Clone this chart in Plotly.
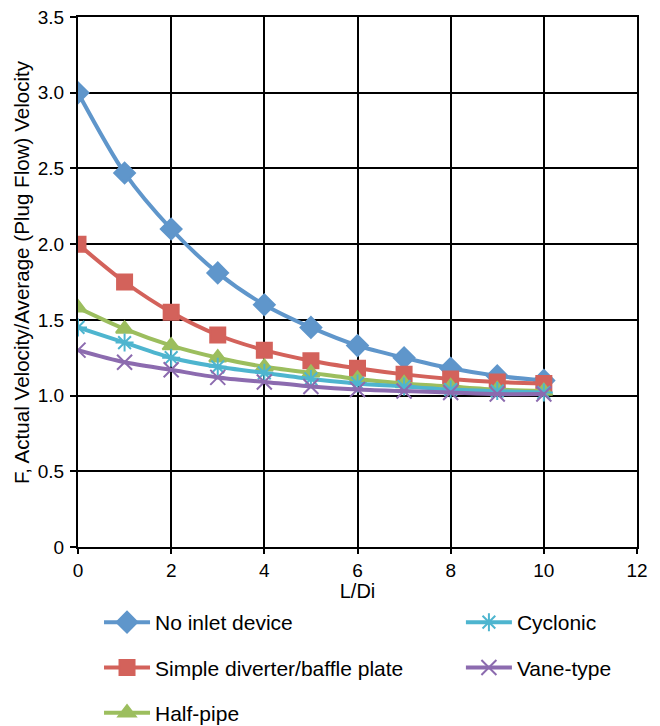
import plotly.graph_objects as go

x_vals = [0, 1, 2, 3, 4, 5, 6, 7, 8, 9, 10]
no_inlet = [3.00, 2.47, 2.10, 1.81, 1.60, 1.45, 1.33, 1.25, 1.18, 1.13, 1.10]
simple_diverter = [2.00, 1.75, 1.55, 1.40, 1.30, 1.23, 1.18, 1.14, 1.11, 1.09, 1.08]
half_pipe = [1.58, 1.44, 1.33, 1.25, 1.19, 1.15, 1.11, 1.08, 1.06, 1.04, 1.03]
cyclonic = [1.45, 1.35, 1.25, 1.19, 1.15, 1.11, 1.08, 1.06, 1.04, 1.03, 1.02]
vane_type = [1.30, 1.22, 1.17, 1.12, 1.09, 1.06, 1.04, 1.03, 1.02, 1.01, 1.01]

y_tickvals = [0, 0.5, 1.0, 1.5, 2.0, 2.5, 3.0, 3.5]
y_ticktext = ["0", "0.5", "1.0", "1.5", "2.0", "2.5", "3.0", "3.5"]
x_tickvals = [0, 2, 4, 6, 8, 10, 12]
y_title = "F, Actual Velocity/Average (Plug Flow) Velocity"
x_title = "L/Di"

series = [
    ("No inlet device", no_inlet, "#5F96CB", "diamond", 16, "legend", "g1"),
    ("Simple diverter/baffle plate", simple_diverter, "#D3625B", "square", 15, "legend", "g2"),
    ("Half-pipe", half_pipe, "#9CBE5E", "triangle-up", 15, "legend", "g3"),
    ("Cyclonic", cyclonic, "#4EB5CF", "asterisk-open", 15, "legend2", "g4"),
    ("Vane-type", vane_type, "#8C6BAF", "x-thin-open", 15, "legend2", "g5"),
]

fig = go.Figure()
for name, vals, color, sym, sz, leg, grp in series:
    fig.add_trace(go.Scatter(
        x=x_vals, y=vals, name=name, mode="lines+markers",
        line=dict(color=color, width=4, shape="spline", smoothing=0.8),
        marker=dict(symbol=sym, size=sz, color=color, line=dict(color=color, width=2)),
        legend=leg, legendgroup=grp,
    ))

font = "Liberation Sans, Arial, sans-serif"
fig.update_layout(
    width=652, height=718,
    margin=dict(l=70, r=23, t=9, b=179),
    paper_bgcolor="white", plot_bgcolor="white",
    font=dict(family=font, size=19, color="black"),
    xaxis=dict(range=[0, 12], tickvals=x_tickvals, showgrid=True, gridcolor="black", gridwidth=2,
               showline=True, linecolor="black", linewidth=2, mirror=True,
               ticks="outside", ticklen=5, tickwidth=2, tickcolor="black",
               zeroline=False, automargin=False, ticklabeloverflow="allow",
               title=dict(text=x_title, standoff=7, font=dict(size=20)),
               tickfont=dict(size=19)),
    yaxis=dict(range=[0, 3.5], tickvals=y_tickvals, ticktext=y_ticktext, showgrid=True, gridcolor="black",
               gridwidth=2, showline=True, linecolor="black", linewidth=2, mirror=True,
               ticks="outside", ticklen=6, tickwidth=2, tickcolor="black",
               zeroline=False, automargin=False, ticklabelstandoff=2, ticklabeloverflow="allow",
               tickfont=dict(size=19)),
    annotations=[dict(text=y_title, textangle=-90, xref="paper", yref="paper",
                      x=-0.1, y=0.519, xanchor="center", yanchor="middle",
                      showarrow=False, font=dict(size=20.6))],
    legend=dict(x=0.0376, xanchor="left", y=0.1727, yref="container", yanchor="top", orientation="v",
                tracegroupgap=15, font=dict(size=21), bgcolor="rgba(0,0,0,0)", itemwidth=46),
    legend2=dict(x=0.685, xanchor="left", y=0.1727, yref="container", yanchor="top", orientation="v",
                 tracegroupgap=15, font=dict(size=21), bgcolor="rgba(0,0,0,0)", itemwidth=46),
    showlegend=True,
)

fig.write_html("out.html")
